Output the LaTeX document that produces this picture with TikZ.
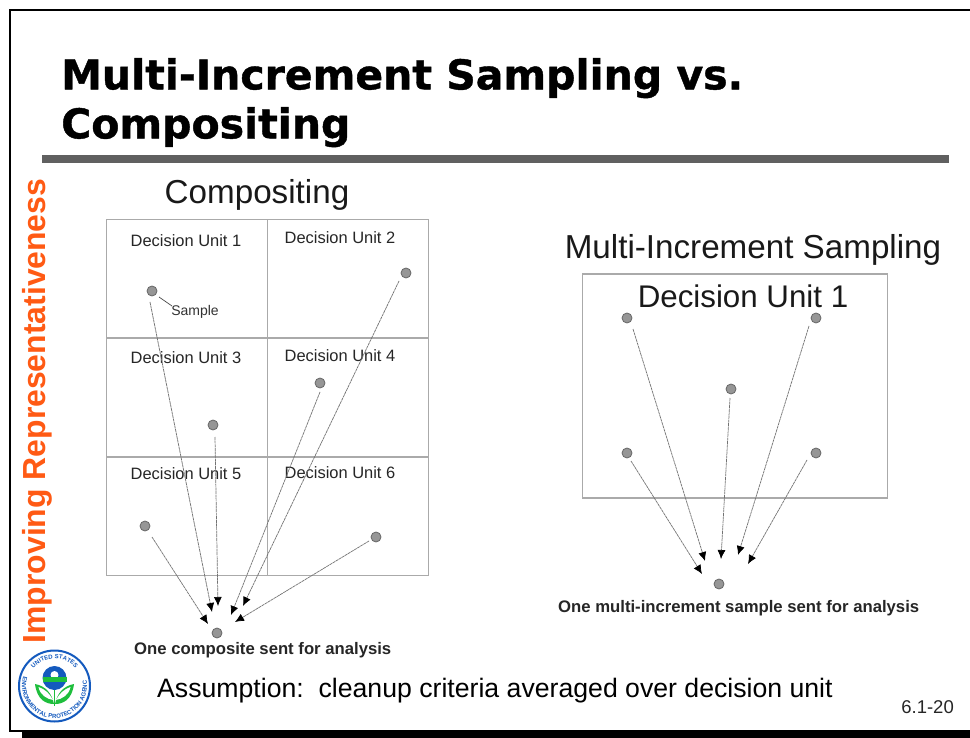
\documentclass[tikz,border=0pt]{standalone}
\usepackage{fontspec}
\setmainfont{Liberation Sans}
\newfontfamily\titlefont[BoldFeatures={FakeBold=1}]{DejaVu Sans}
\usetikzlibrary{arrows.meta, positioning, decorations.text}
\definecolor{rulegray}{RGB}{96,96,96}
\definecolor{cellgray}{RGB}{170,170,170}
\definecolor{dotgray}{RGB}{150,150,150}
\definecolor{sideorange}{RGB}{255,90,20}
\definecolor{epablue}{RGB}{20,90,190}
\definecolor{epagreen}{RGB}{30,190,60}
\newcommand{\sealfont}{\fontsize{6}{5}\selectfont\bfseries\color{epablue}}
\tikzset{
    cell/.style = {draw=cellgray, line width=1.5pt, minimum width=161pt, minimum height=118.5pt, inner sep=0pt, outer sep=0pt},
    sample/.style = {circle, draw=black!60, fill=dotgray, line width=0.8pt, minimum size=10pt, inner sep=0pt},
    unitlabel/.style = {font=\fontsize{16.45}{18}\selectfont, text=black!85},
    feed/.style = {-{Latex[length=9pt,width=8pt,black,fill=black]}, color=black!55, line width=0.7pt, dash pattern=on 3pt off 0.6pt},
    caption/.style = {font=\fontsize{16.7}{18}\selectfont\bfseries, text=black!85},
    heading/.style = {font=\fontsize{33.2}{36}\selectfont, text=black!90},
}
\begin{document}
\begin{tikzpicture}[x=1pt, y=-1pt, node distance = 118.5pt and 161pt, on grid]
    \useasboundingbox (0,0) rectangle (970,738);
    \fill [white] (0,0) rectangle (970,738);

    % frame
    \coordinate (frameA) at (970,10);
    \coordinate (frameB) at (10,10);
    \coordinate (frameC) at (10,731);
    \coordinate (frameD) at (970,731);
    \draw [line width=1.6pt] (frameA) -- (frameB) -- (frameC) -- (frameD);
    \fill (22,731) rectangle (970,738);

    % title
    \node (title) [anchor=north west, align=left, font=\fontsize{41}{49}\selectfont\titlefont\bfseries, inner sep=0pt] at (61,58) {Multi-Increment Sampling vs.\\Compositing};
    \fill [rulegray] (42,155) rectangle (949,163);
    \node (side) [rotate=90, anchor=center, font=\fontsize{31.9}{34}\selectfont\bfseries, text=sideorange, inner sep=0pt] at (37,411) {Improving Representativeness};

    % left block
    \node (compHead) [heading] at (257,195) {Compositing};
    \node (c1) [cell] at (187,279) {};
    \node (c2) [cell, right = of c1] {};
    \node (c3) [cell, below = of c1] {};
    \node (c4) [cell, right = of c3] {};
    \node (c5) [cell, below = of c3] {};
    \node (c6) [cell, right = of c5] {};

    \node (u1) [unitlabel] at (186,241) {Decision Unit 1};
    \node (u2) [unitlabel] at (340,238) {Decision Unit 2};
    \node (u3) [unitlabel] at (186,358) {Decision Unit 3};
    \node (u4) [unitlabel] at (340,356) {Decision Unit 4};
    \node (u5) [unitlabel] at (186,474) {Decision Unit 5};
    \node (u6) [unitlabel] at (340,473) {Decision Unit 6};

    \node (s1) [sample] at (152,291) {};
    \node (s2) [sample] at (406,273) {};
    \node (s3) [sample] at (213,425) {};
    \node (s4) [sample] at (320,383) {};
    \node (s5) [sample] at (145,526) {};
    \node (s6) [sample] at (376,537) {};
    \node (sAll) [sample] at (217,633) {};

    \node (tag) [font=\fontsize{14}{16}\selectfont, text=black!80] at (195,312) {Sample};
    \coordinate (tagEnd) at (172,306);
    \coordinate (tagStart) at (159,297);
    \draw [black!70, line width=0.7pt] (tagStart) -- (tagEnd);

    \coordinate (a1) at (150,302);  \coordinate (b1) at (212,612);
    \coordinate (a2) at (399,281);  \coordinate (b2) at (243,606);
    \coordinate (a3) at (215,437);  \coordinate (b3) at (218,606);
    \coordinate (a4) at (320,392);  \coordinate (b4) at (231,615);
    \coordinate (a5) at (152,537);  \coordinate (b5) at (208,624);
    \coordinate (a6) at (369,541);  \coordinate (b6) at (235,622);
    \path [feed]
        (a1) edge (b1)
        (a2) edge (b2)
        (a3) edge (b3)
        (a4) edge (b4)
        (a5) edge (b5)
        (a6) edge (b6);

    \node (compCap) [caption, anchor=west, inner sep=0pt] at (134,650) {One composite sent for analysis};

    % right block
    \node (misHead) [heading] at (753,250) {Multi-Increment Sampling};
    \node (field) [draw=cellgray, line width=1.5pt, minimum width=305pt, minimum height=224pt, inner sep=0pt] at (735,386) {};
    \node (fieldLabel) [font=\fontsize{31.3}{34}\selectfont, text=black!90] at (743,296) {Decision Unit 1};

    \node (m1) [sample] at (627,318) {};
    \node (m2) [sample] at (816,318) {};
    \node (m3) [sample] at (731,389) {};
    \node (m4) [sample] at (627,453) {};
    \node (m5) [sample] at (816,453) {};
    \node (mAll) [sample] at (719,584) {};

    \coordinate (p1) at (633,329);  \coordinate (q1) at (705,561);
    \coordinate (p2) at (809,326);  \coordinate (q2) at (738,555);
    \coordinate (p3) at (730,398);  \coordinate (q3) at (721,559);
    \coordinate (p4) at (631,461);  \coordinate (q4) at (702,574);
    \coordinate (p5) at (807,460);  \coordinate (q5) at (748,564);
    \path [feed]
        (p1) edge (q1)
        (p2) edge (q2)
        (p3) edge (q3)
        (p4) edge (q4)
        (p5) edge (q5);

    \node (misCap) [caption, anchor=west, inner sep=0pt] at (558,608) {One multi-increment sample sent for analysis};

    % footer
    \node (note) [anchor=west, font=\fontsize{26.65}{28}\selectfont, inner sep=0pt] at (157,691) {Assumption:\ \ cleanup criteria averaged over decision unit};
    \node (pageNo) [anchor=east, font=\fontsize{18.5}{20}\selectfont, text=black!85, inner sep=0pt] at (954,707) {6.1-20};

    % seal
    \node (seal) [circle, draw=epablue, line width=2pt, minimum size=71pt, inner sep=0pt] at (54.5,686) {};
    \path [postaction={decorate, decoration={text along path, text align=center, text={|\sealfont|UNITED STATES}}}] (27,686) arc[start angle=180, end angle=0, radius=27.5pt];
    \path [postaction={decorate, decoration={text along path, text align=center, text={|\sealfont|ENVIRONMENTAL PROTECTION AGENCY}}}] (22.5,680) arc[start angle=170, end angle=370, radius=32.5pt];
    \fill [epablue] (54.5,678) circle (12pt);
    \fill [white] (54.5,675) circle (4pt);
    \fill [epagreen] (42.5,677) rectangle (66.5,682);
    \fill [epagreen] (54,704) .. controls (46,704) and (37,700) .. (35,684) .. controls (46,686) and (52,694) .. (54,704);
    \fill [epagreen] (55,704) .. controls (63,704) and (72,700) .. (74,684) .. controls (63,686) and (57,694) .. (55,704);
    \fill [white] (53,700) .. controls (47,699) and (40,695) .. (38.5,687) .. controls (45,689) and (50,694) .. (53,700);
    \fill [white] (56,700) .. controls (62,699) and (69,695) .. (70.5,687) .. controls (64,689) and (59,694) .. (56,700);
    \fill [epagreen] (54,690) rectangle (55,706);
\end{tikzpicture}
\end{document}
